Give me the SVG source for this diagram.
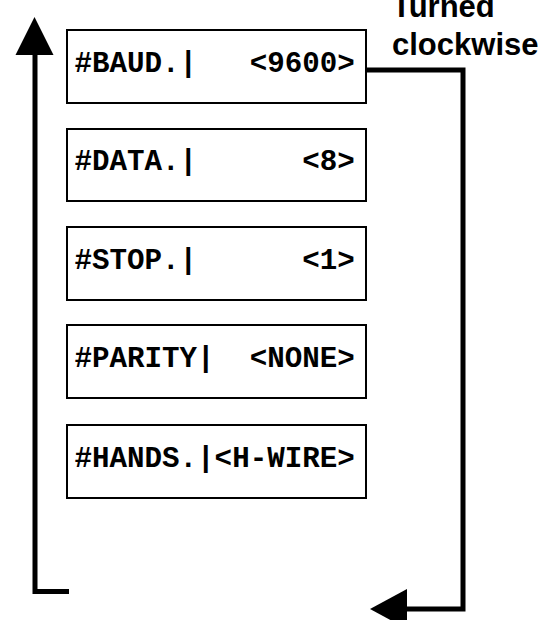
<svg xmlns="http://www.w3.org/2000/svg" width="551" height="620" viewBox="0 0 551 620">
<style>
.box{fill:#fff;stroke:#000;stroke-width:2}
.t{font-family:"Liberation Mono","Courier New",monospace;font-weight:bold;font-size:29.2px;fill:#000;white-space:pre}
.lbl{font-family:"Liberation Sans",Arial,sans-serif;font-weight:bold;font-size:31px;fill:#000}
.wire{fill:none;stroke:#000;stroke-width:5;stroke-linejoin:miter;stroke-linecap:butt}
.head{fill:#000}
</style>
<rect width="551" height="620" fill="#fff"/>
<g id="connectors">
<path class="wire" d="M69 591.5 H35 V50"/>
<polygon class="head" points="34.5,17 15.5,55 53.5,55"/>
<path class="wire" d="M367 70 H463 V609 H404"/>
<polygon class="head" points="370,609 407,589 407,629"/>
</g>
<g id="label">
<text class="lbl" x="392" y="17">Turned</text>
<text class="lbl" x="392" y="55">clockwise</text>
</g>
<g id="baud">
<rect class="box" x="67" y="30" width="299" height="73"/>
<text class="t" x="74.5" y="72" xml:space="preserve">#BAUD.|   &lt;9600&gt;</text>
</g>
<g id="data">
<rect class="box" x="67" y="129" width="299" height="72"/>
<text class="t" x="74.5" y="170" xml:space="preserve">#DATA.|      &lt;8&gt;</text>
</g>
<g id="stop">
<rect class="box" x="67" y="227" width="299" height="73"/>
<text class="t" x="74.5" y="269" xml:space="preserve">#STOP.|      &lt;1&gt;</text>
</g>
<g id="parity">
<rect class="box" x="67" y="325" width="299" height="73"/>
<text class="t" x="74.5" y="367" xml:space="preserve">#PARITY|  &lt;NONE&gt;</text>
</g>
<g id="hands">
<rect class="box" x="67" y="425" width="299" height="73"/>
<text class="t" x="74.5" y="467" xml:space="preserve">#HANDS.|&lt;H-WIRE&gt;</text>
</g>
</svg>
